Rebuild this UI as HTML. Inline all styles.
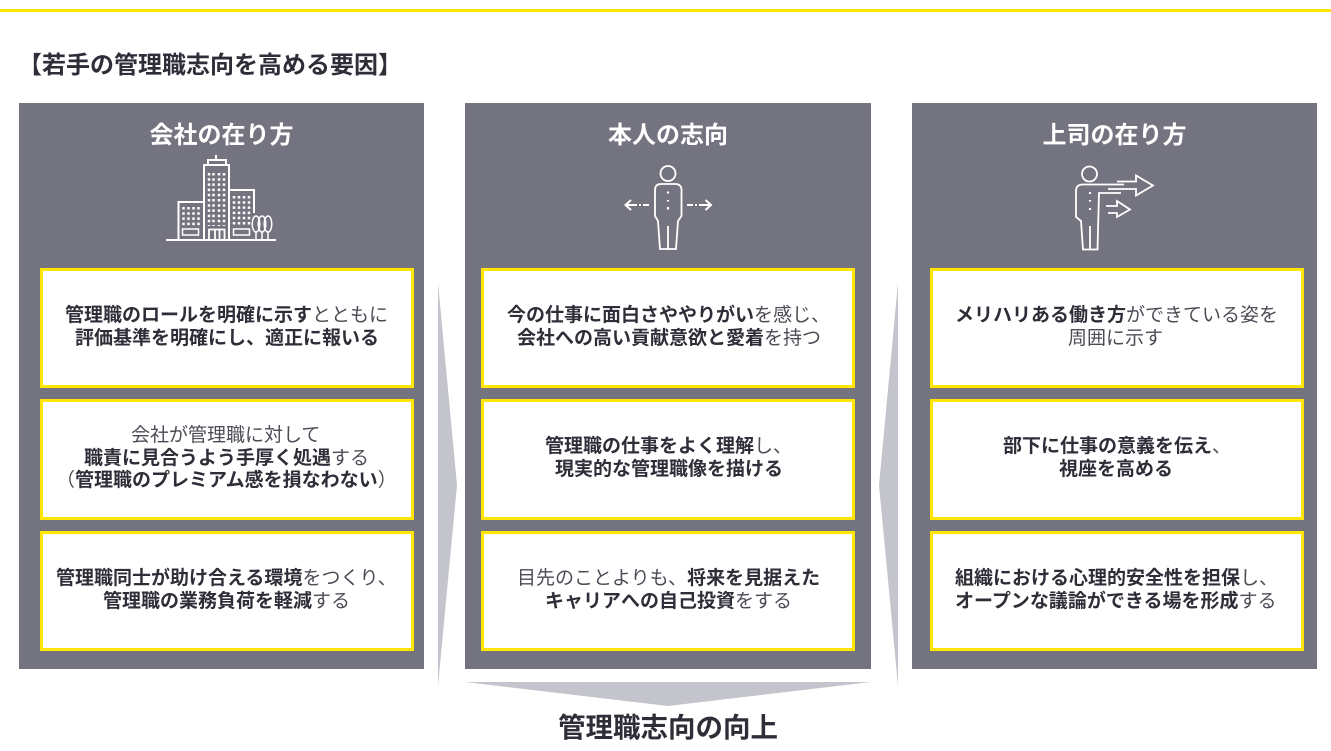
<!DOCTYPE html>
<html lang="ja"><head><meta charset="utf-8">
<style>
html,body{margin:0;padding:0;background:#fff}
#p{position:relative;width:1331px;height:751px;overflow:hidden;background:#fff;font-family:"Liberation Sans","Noto Sans CJK JP",sans-serif;color:#2e2e38}
#p div{position:absolute}
.bar{left:0;top:9px;width:1331px;height:3px;background:#ffe600}
.panel{top:103px;height:566px;background:#747480}
.card{box-sizing:border-box;border:3px solid #ffe600;background:#fff}
.t{font-size:19px;line-height:24px;height:24px;white-space:nowrap;color:#4c4c56}
.t b{font-weight:700;color:#2e2e38}
.h{top:120.500px;font-size:24px;line-height:30px;font-weight:700;color:#fff;text-align:center;white-space:nowrap}
svg{position:absolute;left:0;top:0}
</style></head><body><div id="p">
<div class="bar"></div>
<div style="left:18px;top:51px;font-size:24px;line-height:30px;font-weight:700;white-space:nowrap;color:#2e2e38">【若手の管理職志向を高める要因】</div>

<div class="panel" style="left:19px;width:405px"></div>
<div class="panel" style="left:465px;width:406px"></div>
<div class="panel" style="left:912px;width:405px"></div>
<div class="h" style="left:19px;width:405px">会社の在り方</div>
<div class="h" style="left:465px;width:406px">本人の志向</div>
<div class="h" style="left:912px;width:405px">上司の在り方</div>

<div class="card" style="left:40px;top:268px;width:374px;height:120px"></div>
<div class="card" style="left:40px;top:399px;width:374px;height:121px"></div>
<div class="card" style="left:40px;top:531px;width:374px;height:120px"></div>
<div class="card" style="left:481px;top:268px;width:374px;height:120px"></div>
<div class="card" style="left:481px;top:399px;width:374px;height:121px"></div>
<div class="card" style="left:481px;top:531px;width:374px;height:120px"></div>
<div class="card" style="left:930px;top:268px;width:374px;height:120px"></div>
<div class="card" style="left:930px;top:399px;width:374px;height:121px"></div>
<div class="card" style="left:930px;top:531px;width:374px;height:120px"></div>

<div class="t" style="left:65px;top:304px"><b>管理職のロールを明確に示す</b>とともに</div>
<div class="t" style="left:75px;top:327px"><b>評価基準を明確にし、適正に報いる</b></div>
<div class="t" style="left:131px;top:424px">会社が管理職に対して</div>
<div class="t" style="left:84px;top:447px"><b>職責に見合うよう手厚く処遇</b>する</div>
<div class="t" style="left:56px;top:469px">（<b>管理職のプレミアム感を損なわない</b>）</div>
<div class="t" style="left:56px;top:567px"><b>管理職同士が助け合える環境</b>をつくり、</div>
<div class="t" style="left:103px;top:590px"><b>管理職の業務負荷を軽減</b>する</div>

<div class="t" style="left:507px;top:304px"><b>今の仕事に面白さややりがい</b>を感じ、</div>
<div class="t" style="left:517px;top:327px"><b>会社への高い貢献意欲と愛着</b>を持つ</div>
<div class="t" style="left:545px;top:435px"><b>管理職の仕事をよく理解</b>し、</div>
<div class="t" style="left:555px;top:458px"><b>現実的な管理職像を描ける</b></div>
<div class="t" style="left:517px;top:567px">目先のことよりも、<b>将来を見据えた</b></div>
<div class="t" style="left:545px;top:590px"><b>キャリアへの自己投資</b>をする</div>

<div class="t" style="left:955px;top:304px"><b>メリハリある働き方</b>ができている姿を</div>
<div class="t" style="left:1068px;top:327px">周囲に示す</div>
<div class="t" style="left:1003px;top:435px"><b>部下に仕事の意義を伝え</b>、</div>
<div class="t" style="left:1059px;top:458px"><b>視座を高める</b></div>
<div class="t" style="left:955px;top:567px"><b>組織における心理的安全性を担保</b>し、</div>
<div class="t" style="left:955px;top:590px"><b>オープンな議論ができる場を形成</b>する</div>

<div style="left:465px;width:406px;top:710px;text-align:center;font-size:27.5px;line-height:36px;font-weight:700;white-space:nowrap;color:#2e2e38">管理職志向の向上</div>

<svg width="1331" height="751" viewBox="0 0 1331 751" fill="none">
<polygon points="438,283 457,485 438,686" fill="#c4c4cd"/>
<polygon points="898,283 879,485 898,686" fill="#c4c4cd"/>
<polygon points="465,682 871,682 668,706" fill="#c4c4cd"/>

<g stroke="#fff" stroke-width="2">
<path d="M166 240H276"/>
<path d="M204 240V165H229V240"/>
<path d="M208 164V160H226V164M216 160V155"/>
<path d="M178.500 240V202H204M229 190H254V213"/>
<path d="M209 240V229.500H224.500V240M215 230V240M219.500 230V240" stroke-width="1.800"/>
<rect x="182.500" y="229" width="16" height="6" stroke-width="1.500"/>
<rect x="233.500" y="229" width="16" height="6" stroke-width="1.500"/>
<ellipse cx="256" cy="224" rx="3.800" ry="8" stroke-width="1.500"/>
<ellipse cx="262" cy="224" rx="3.800" ry="8" stroke-width="1.500"/>
<ellipse cx="268" cy="224" rx="3.800" ry="8" stroke-width="1.500"/>
<path d="M256 232V240M262 232V240M268 232V240" stroke-width="1.500"/>
</g>
<g stroke="#fff" stroke-width="2.500" stroke-dasharray="2.500 2.700">
<path d="M209 173V226M213.500 173V226M219 173V226M224 173V226"/>
<path d="M183.500 207V226M188.500 207V226M193.500 207V226M198.500 207V226"/>
<path d="M234 196V226M239 196V226M244 196V226M249 196V226"/>
</g>

<g stroke="#fff" stroke-width="1.800">
<circle cx="668" cy="173.500" r="7.500"/>
<path d="M655 216V190Q655 184 661 184H675Q681.500 184 681.500 190V216L678 221L676 249H660L658 221Z"/>
<path d="M668 226V249"/>
<path d="M668 191.500V193.500M668 200V201.500M668 207V209.500" stroke-width="2.200"/>
<path d="M649 205H643M641 205H639M637 205H626M631 200L625.500 205L631 210" stroke-width="2"/>
<path d="M687 205H693M695 205H697M699 205H711M705.500 200L711 205L705.500 210" stroke-width="2"/>
</g>

<g stroke="#fff" stroke-width="1.800">
<circle cx="1089.500" cy="174" r="7.500"/>
<path d="M1124 184.500H1083Q1076 184.500 1076 191V217L1081 221L1083 249.500H1097.500L1099 193H1121"/>
<path d="M1090 226V249.500"/>
<path d="M1090 192V194M1090 200V201.500M1090 208V210" stroke-width="2.200"/>
<path d="M1117 181.500H1136V175.500L1153 185.500L1136 195.500V189H1108"/>
<path d="M1106 206H1117V201L1130 209.500L1117 217V213H1108"/>
</g>
</svg>
</div></body></html>
